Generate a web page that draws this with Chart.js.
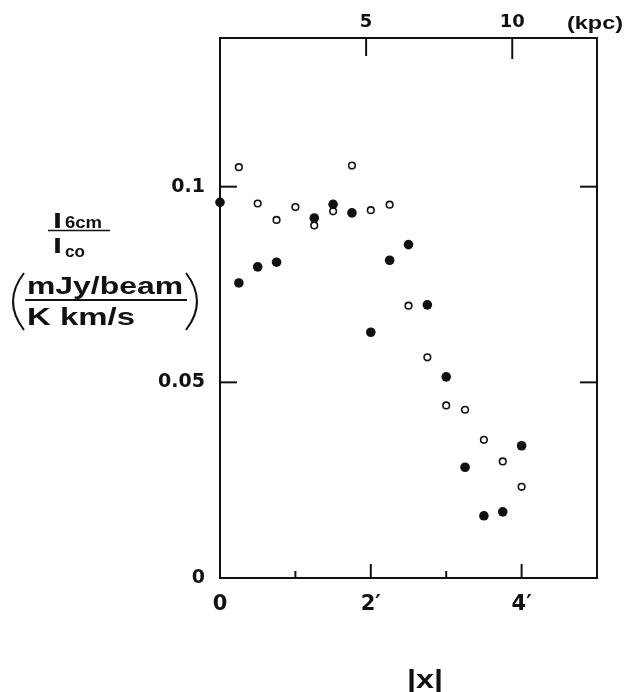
<!DOCTYPE html>
<html>
<head>
<meta charset="utf-8">
<script src="https://cdn.jsdelivr.net/npm/chart.js@4.4.1/dist/chart.umd.min.js"></script>
<style>
  html, body { margin: 0; padding: 0; background: #fff; }
</style>
</head>
<body>
<canvas id="ratioChart" width="628" height="692"></canvas>
<script>
// distance along the major axis, arcmin
var filledX = [0, 0.25, 0.5, 0.75, 1.25, 1.5, 1.75, 2.0, 2.25, 2.5, 2.75, 3.0, 3.25, 3.5, 3.75, 4.0];
var filledY = [0.096, 0.0754, 0.0795, 0.0807, 0.092, 0.0955, 0.0933, 0.0628, 0.0812, 0.0852, 0.0698, 0.0514, 0.0283, 0.0159, 0.0169, 0.0338];
var openX = [0.25, 0.5, 0.75, 1.0, 1.25, 1.5, 1.75, 2.0, 2.25, 2.5, 2.75, 3.0, 3.25, 3.5, 3.75, 4.0];
var openY = [0.105, 0.0957, 0.0915, 0.0948, 0.0901, 0.0937, 0.1054, 0.094, 0.0954, 0.0696, 0.0564, 0.0441, 0.043, 0.0353, 0.0298, 0.0233];

var yTickValues = [0, 0.05, 0.1];
var yTickLabels = ['0', '0.05', '0.1'];
var xTickValues = [0, 2, 4];
var xTickLabels = ['0', '2\u2032', '4\u2032'];
var xMinorTicks = [1, 2, 3, 4];
var kpcTickValues = [5, 10];
var kpcTickLabels = ['5', '10'];
var kpcPerArcmin = 2.58;

var INK = '#111';
var FONT = '"Liberation Sans", Arial, sans-serif';
var TICK_FONT = '"DejaVu Sans", sans-serif';

function toPoints(xs, ys) {
    return xs.map(function (x, i) { return { x: x, y: ys[i] }; });
}

// wide bold text, stretched horizontally to a given width
function wideText(ctx, str, x, y, size, width, align) {
    ctx.save();
    ctx.font = 'bold ' + size + 'px ' + FONT;
    var w = ctx.measureText(str).width;
    var sx = width ? width / w : 1;
    ctx.translate(x, y);
    ctx.scale(sx, 1);
    ctx.textAlign = align || 'left';
    ctx.textBaseline = 'alphabetic';
    ctx.fillText(str, 0, 0);
    ctx.restore();
}

function line(ctx, x1, y1, x2, y2) {
    ctx.beginPath();
    ctx.moveTo(x1, y1);
    ctx.lineTo(x2, y2);
    ctx.stroke();
}

var framePlugin = {
    id: 'frame',
    beforeDatasetsDraw: function (chart) {
        var ctx = chart.ctx, a = chart.chartArea;
        var x = chart.scales.x, y = chart.scales.y, k = chart.scales.kpc;
        ctx.save();
        ctx.strokeStyle = INK;
        ctx.lineWidth = 2;
        ctx.strokeRect(a.left, a.top, a.right - a.left, a.bottom - a.top);
        // inward tick marks
        yTickValues.forEach(function (v) {
            if (v === 0) return;
            var py = y.getPixelForValue(v);
            line(ctx, a.left, py, a.left + 17, py);
            line(ctx, a.right - 17, py, a.right, py);
        });
        xMinorTicks.forEach(function (v) {
            var px = x.getPixelForValue(v);
            line(ctx, px, a.bottom, px, a.bottom - (v % 2 === 0 ? 14 : 7));
        });
        kpcTickValues.forEach(function (v, i) {
            var px = k.getPixelForValue(v);
            line(ctx, px, a.top, px, a.top + (i === 0 ? 18 : 21));
        });
        ctx.restore();
    },
    afterDraw: function (chart) {
        var ctx = chart.ctx;
        ctx.save();
        ctx.fillStyle = INK;
        ctx.strokeStyle = INK;

        wideText(ctx, '(kpc)', 623, 29, 18, 56, 'right');
        wideText(ctx, '|x|', 425, 688, 26, 36, 'center');

        // y axis title: I6cm / Ico ( mJy/beam / K km/s )
        wideText(ctx, 'I', 53, 228, 22, 9);
        wideText(ctx, '6cm', 65, 228, 16, 37);
        ctx.lineWidth = 1.5;
        line(ctx, 48, 230.5, 110, 230.5);
        wideText(ctx, 'I', 53, 253, 22, 9);
        wideText(ctx, 'co', 65, 257, 16, 20);

        wideText(ctx, 'mJy/beam', 27, 294, 24, 156);
        ctx.lineWidth = 2;
        line(ctx, 25, 300, 187, 300);
        wideText(ctx, 'K km/s', 27, 325, 24, 108);

        ctx.lineWidth = 2;
        ctx.beginPath();
        ctx.moveTo(24, 273);
        ctx.quadraticCurveTo(2, 301.5, 24, 330);
        ctx.stroke();
        ctx.beginPath();
        ctx.moveTo(186, 273);
        ctx.quadraticCurveTo(208, 301.5, 186, 330);
        ctx.stroke();
        ctx.restore();
    }
};

var tickFont = function (size) {
    return { family: TICK_FONT, size: size, weight: 'bold' };
};

new Chart(document.getElementById('ratioChart'), {
    type: 'scatter',
    data: {
        datasets: [
            {
                label: 'filled',
                data: toPoints(filledX, filledY),
                pointRadius: 4.8,
                pointBackgroundColor: INK,
                pointBorderColor: INK,
                pointBorderWidth: 0,
                clip: false
            },
            {
                label: 'open',
                data: toPoints(openX, openY),
                pointRadius: 3.3,
                pointBackgroundColor: '#fff',
                pointBorderColor: INK,
                pointBorderWidth: 1.6,
                clip: false
            }
        ]
    },
    options: {
        responsive: false,
        animation: false,
        devicePixelRatio: 1,
        layout: { padding: 0 },
        plugins: {
            legend: { display: false },
            tooltip: { enabled: false }
        },
        scales: {
            x: {
                type: 'linear',
                position: 'bottom',
                min: 0,
                max: 5,
                afterBuildTicks: function (s) { s.ticks = xTickValues.map(function (v) { return { value: v }; }); },
                afterFit: function (s) { s.height = 114; },
                grid: { display: false, drawTicks: false },
                border: { display: false },
                ticks: {
                    padding: 14,
                    autoSkip: false,
                    maxRotation: 0,
                    color: INK,
                    font: tickFont(21),
                    callback: function (v) { return xTickLabels[xTickValues.indexOf(v)]; }
                }
            },
            kpc: {
                axis: 'x',
                type: 'linear',
                position: 'top',
                min: 0,
                max: 5 * kpcPerArcmin,
                afterBuildTicks: function (s) { s.ticks = kpcTickValues.map(function (v) { return { value: v }; }); },
                afterFit: function (s) { s.height = 38; },
                grid: { display: false, drawTicks: false },
                border: { display: false },
                ticks: {
                    padding: 5,
                    autoSkip: false,
                    maxRotation: 0,
                    color: INK,
                    font: tickFont(18),
                    callback: function (v) { return kpcTickLabels[kpcTickValues.indexOf(v)]; }
                }
            },
            y: {
                type: 'linear',
                position: 'left',
                min: 0,
                max: 0.138,
                afterBuildTicks: function (s) { s.ticks = yTickValues.map(function (v) { return { value: v }; }); },
                afterFit: function (s) { s.width = 220; },
                grid: { display: false, drawTicks: false },
                border: { display: false },
                ticks: {
                    padding: 15,
                    color: INK,
                    font: tickFont(19),
                    callback: function (v) { return yTickLabels[yTickValues.indexOf(v)]; }
                }
            },
            y2: {
                axis: 'y',
                type: 'linear',
                position: 'right',
                min: 0,
                max: 0.138,
                afterFit: function (s) { s.width = 31; },
                grid: { display: false, drawTicks: false },
                border: { display: false },
                ticks: { display: false }
            }
        }
    },
    plugins: [framePlugin]
});
</script>
</body>
</html>
